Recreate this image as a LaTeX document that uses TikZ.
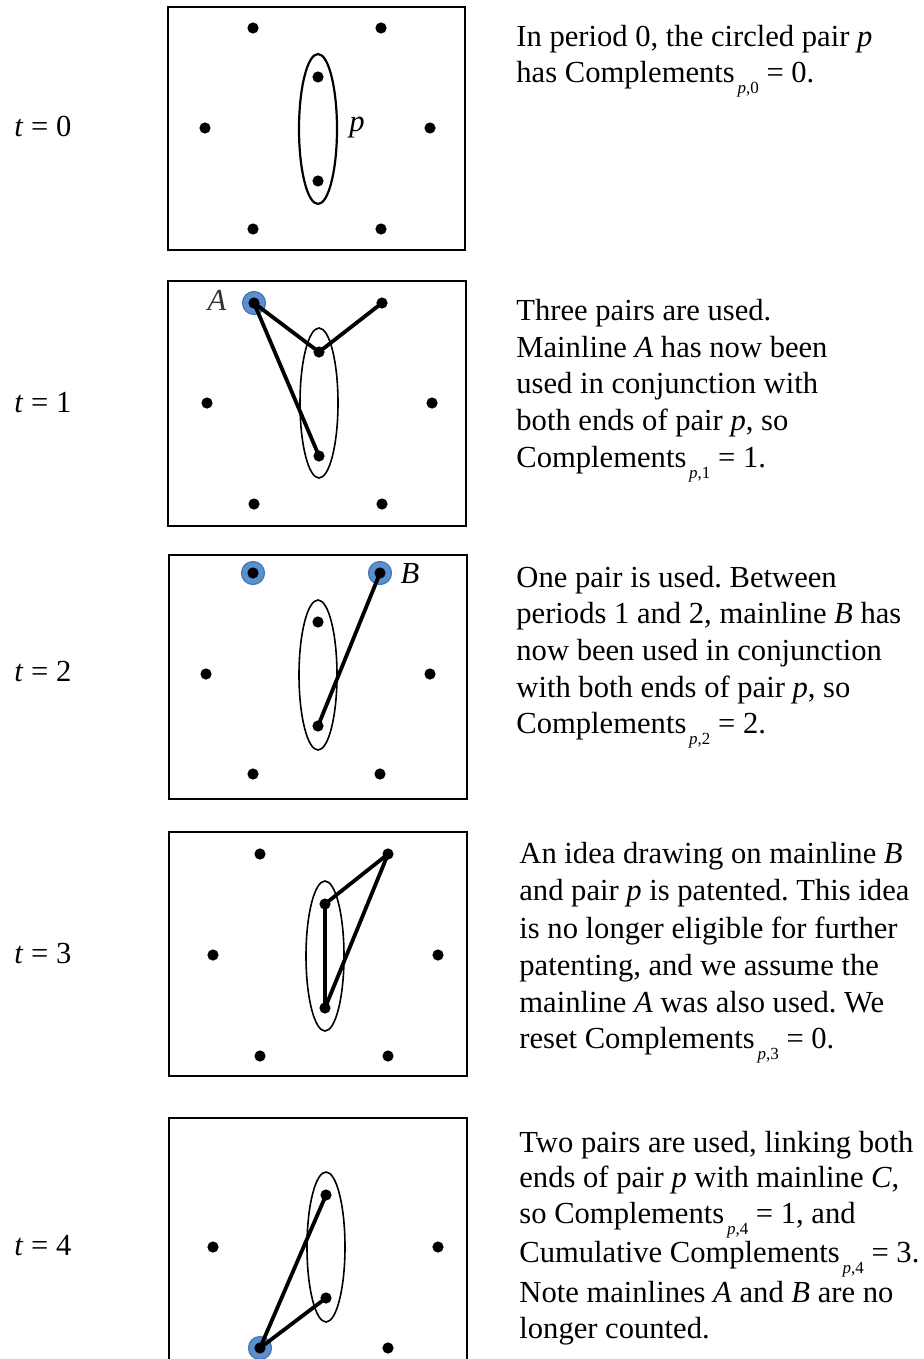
\documentclass[tikz,border=0pt]{standalone}
\usepackage{fontspec}
\setmainfont{Liberation Serif}
\usetikzlibrary{shapes.geometric}
\definecolor{bluefill}{RGB}{91,143,206}
\definecolor{blueedge}{RGB}{70,118,178}
\newcommand{\csub}[1]{\raisebox{-5.5pt}{\fontsize{8.5}{9}\selectfont\,\textit{p},#1}}
\tikzset{
  frame/.style={draw=black, line width=1pt},
  dot/.style={circle, fill=black, inner sep=0pt, minimum size=5.6pt},
  hilite/.style={circle, fill=bluefill, draw=blueedge, line width=0.6pt, inner sep=0pt, minimum size=11.5pt},
  pairell/.style={ellipse, draw=black, line width=0.8pt, inner sep=0pt, minimum width=19pt, minimum height=75pt},
  link/.style={draw=black, line width=1.9pt, line cap=round},
  txt/.style={anchor=base west, inner sep=0pt, font=\fontsize{15.3}{18}\selectfont},
  lbl/.style={inner sep=0pt, font=\fontsize{15.3}{18}\selectfont}
}
\begin{document}
\frenchspacing
\begin{tikzpicture}[x=0.5pt, y=-0.5pt]
\useasboundingbox (0,0) rectangle (924,1359);

% ---------- t labels ----------
\node[txt] (t0) at (14,136) {\textit{t} = 0};
\node[txt] (t1) at (14,412) {\textit{t} = 1};
\node[txt] (t2) at (14,681) {\textit{t} = 2};
\node[txt] (t3) at (14,963) {\textit{t} = 3};
\node[txt] (t4) at (14,1255) {\textit{t} = 4};

% ---------- panel 0 ----------
\draw[frame] (168,7) rectangle (465,250);
\node[pairell, line width=1.1pt] (e0) at (318,129) {};
\node[dot] (p0a) at (253,28) {};
\node[dot] (p0b) at (381,28) {};
\node[dot] (p0c) at (205,128) {};
\node[dot] (p0d) at (430,128) {};
\node[dot] (p0e) at (318,77) {};
\node[dot] (p0f) at (318,181) {};
\node[dot] (p0g) at (253,229) {};
\node[dot] (p0h) at (381,229) {};
\node[lbl] (p0p) at (357,128) {\textit{p}};

% ---------- panel 1 ----------
\draw[frame] (168,281) rectangle (466,526);
\node[pairell] (e1) at (319,403) {};
\node[hilite] (h1a) at (254,303) {};
\node[dot] (p1a) at (254,303) {};
\node[dot] (p1b) at (382,303) {};
\node[dot] (p1c) at (207,403) {};
\node[dot] (p1d) at (432,403) {};
\node[dot] (p1e) at (319,352) {};
\node[dot] (p1f) at (319,456) {};
\node[dot] (p1g) at (254,504) {};
\node[dot] (p1h) at (382,504) {};
\draw[link] (p1a.center) -- (p1e.center);
\draw[link] (p1b.center) -- (p1e.center);
\draw[link] (p1a.center) -- (p1f.center);
\node[lbl, text=black!80] (A1) at (217,300) {\textit{A}};

% ---------- panel 2 ----------
\draw[frame] (169,555) rectangle (467,799);
\node[pairell] (e2) at (318,675) {};
\node[hilite] (h2a) at (253,573) {};
\node[hilite] (h2b) at (380,573) {};
\node[dot] (p2a) at (253,573) {};
\node[dot] (p2b) at (380,573) {};
\node[dot] (p2c) at (206,674) {};
\node[dot] (p2d) at (430,674) {};
\node[dot] (p2e) at (318,622) {};
\node[dot] (p2f) at (318,726) {};
\node[dot] (p2g) at (253,774) {};
\node[dot] (p2h) at (380,774) {};
\draw[link] (p2b.center) -- (p2f.center);
\node[lbl] (B2) at (410,574) {\textit{B}};

% ---------- panel 3 ----------
\draw[frame] (169,832) rectangle (467,1076);
\node[pairell] (e3) at (325,956) {};
\node[dot] (p3a) at (260,854) {};
\node[dot] (p3b) at (388,854) {};
\node[dot] (p3c) at (213,955) {};
\node[dot] (p3d) at (438,955) {};
\node[dot] (p3e) at (325,904) {};
\node[dot] (p3f) at (325,1008) {};
\node[dot] (p3g) at (260,1056) {};
\node[dot] (p3h) at (388,1056) {};
\draw[link] (p3b.center) -- (p3e.center);
\draw[link] (p3b.center) -- (p3f.center);
\draw[link] (p3e.center) -- (p3f.center);

% ---------- panel 4 ----------
\draw[frame] (169,1118) rectangle (467,1362);
\node[pairell] (e4) at (326,1247) {};
\node[hilite] (h4a) at (260,1348) {};
\node[dot] (p4a) at (260,1348) {};
\node[dot] (p4b) at (388,1348) {};
\node[dot] (p4c) at (213,1247) {};
\node[dot] (p4d) at (438,1247) {};
\node[dot] (p4e) at (326,1195) {};
\node[dot] (p4f) at (326,1298) {};
\draw[link] (p4a.center) -- (p4e.center);
\draw[link] (p4a.center) -- (p4f.center);

% ---------- texts ----------
\node[txt] (x0a) at (516,47) {In period 0, the circled pair \textit{p}};
\node[txt] (x0b) at (516,83) {has Complements\csub{0} = 0.};

\node[txt] (x1a) at (516,320) {Three pairs are used.};
\node[txt] (x1b) at (516,357) {Mainline \textit{A} has now been};
\node[txt] (x1c) at (516,393) {used in conjunction with};
\node[txt] (x1d) at (516,430) {both ends of pair \textit{p}, so};
\node[txt] (x1e) at (516,467) {Complements\csub{1} = 1.};

\node[txt] (x2a) at (516,587) {One pair is used. Between};
\node[txt] (x2b) at (516,623) {periods 1 and 2, mainline \textit{B} has};
\node[txt] (x2c) at (516,660) {now been used in conjunction};
\node[txt] (x2d) at (516,697) {with both ends of pair \textit{p}, so};
\node[txt] (x2e) at (516,733) {Complements\csub{2} = 2.};

\node[txt] (x3a) at (519,863) {An idea drawing on mainline \textit{B}};
\node[txt] (x3b) at (519,900) {and pair \textit{p} is patented. This idea};
\node[txt] (x3c) at (519,938) {is no longer eligible for further};
\node[txt] (x3d) at (519,975) {patenting, and we assume the};
\node[txt] (x3e) at (519,1012) {mainline \textit{A} was also used. We};
\node[txt] (x3f) at (519,1048) {reset Complements\csub{3} = 0.};

\node[txt] (x4a) at (519,1152) {Two pairs are used, linking both};
\node[txt] (x4b) at (519,1187) {ends of pair \textit{p} with mainline \textit{C},};
\node[txt] (x4c) at (519,1223) {so Complements\csub{4} = 1, and};
\node[txt] (x4d) at (519,1262) {Cumulative Complements\csub{4} = 3.};
\node[txt] (x4e) at (519,1302) {Note mainlines \textit{A} and \textit{B} are no};
\node[txt] (x4f) at (519,1338) {longer counted.};
\end{tikzpicture}
\end{document}
